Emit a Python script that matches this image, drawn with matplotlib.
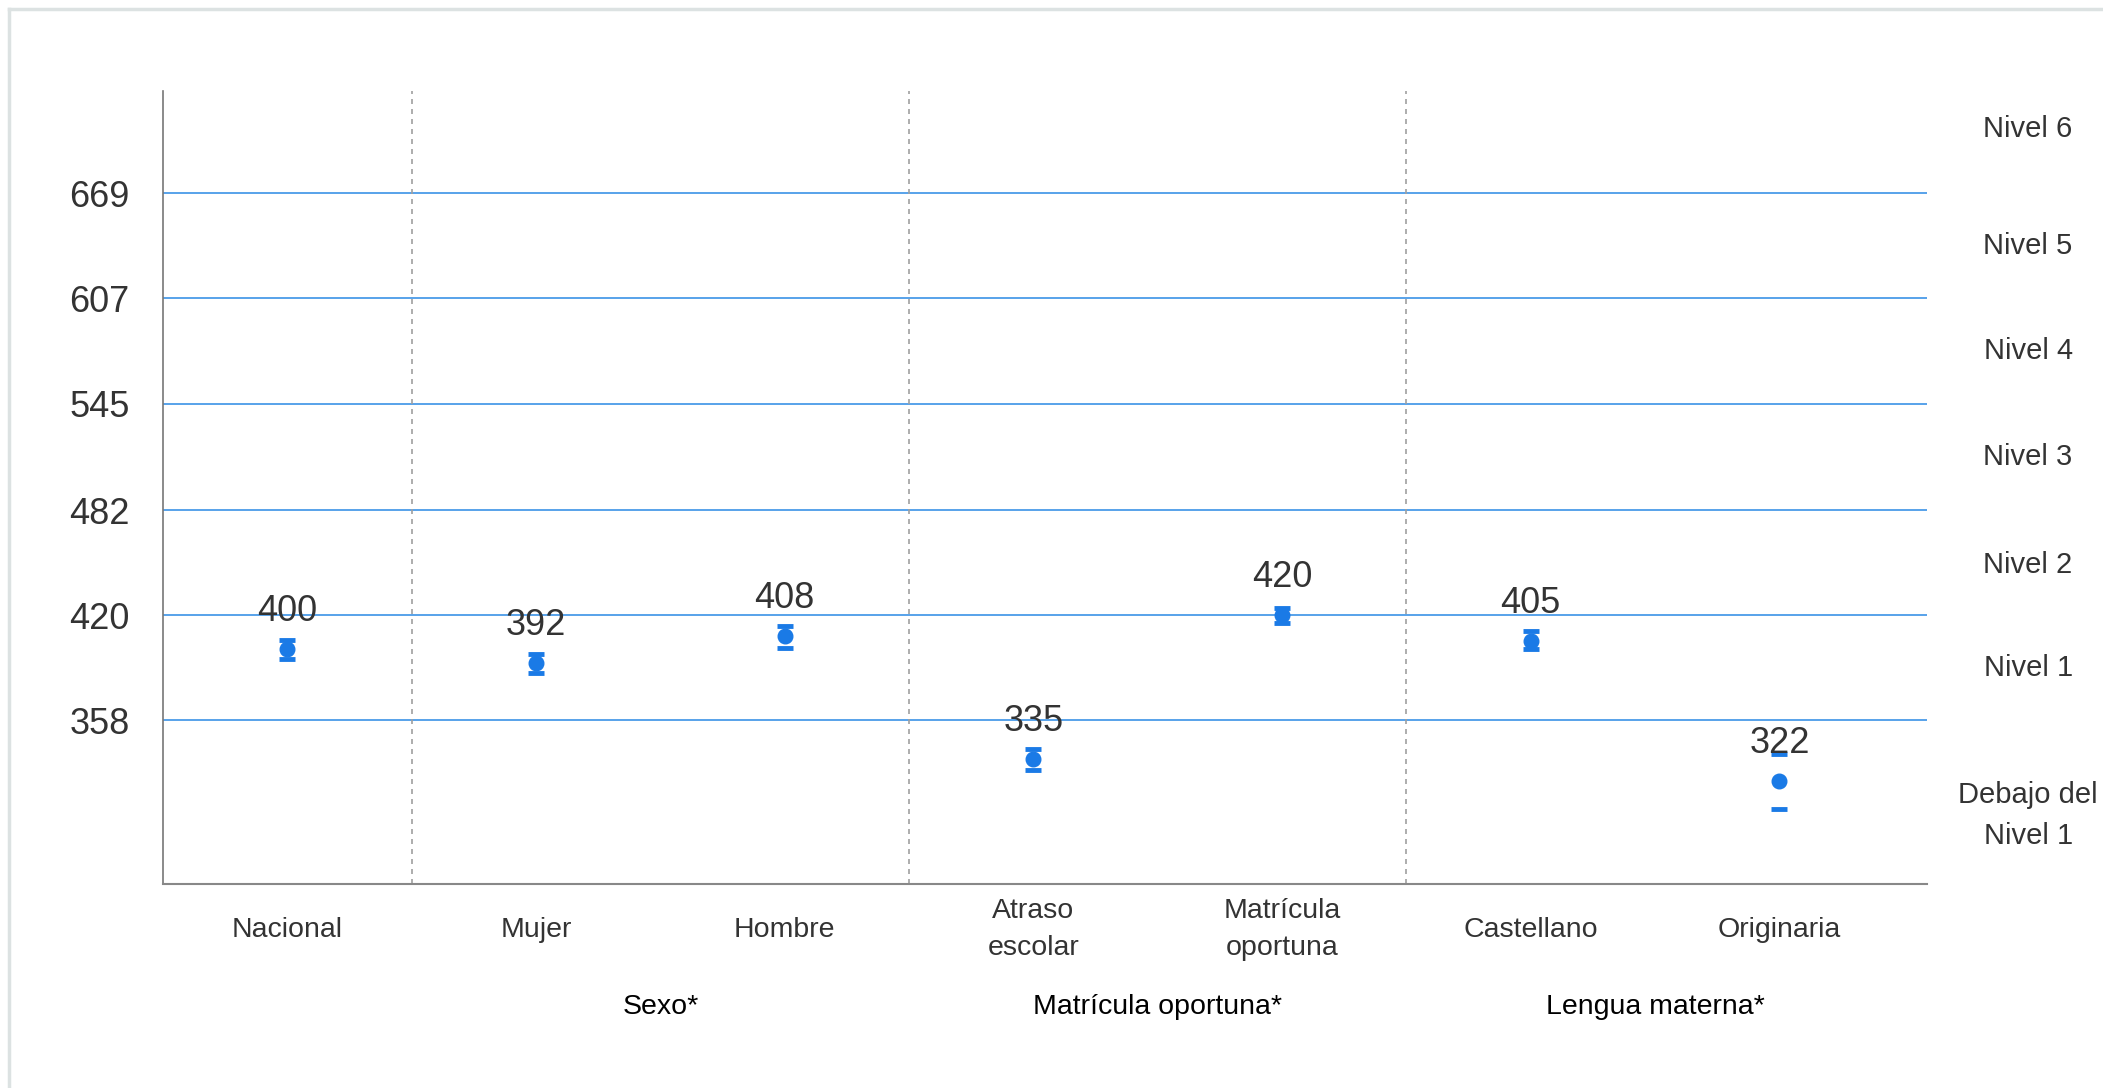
import matplotlib.pyplot as plt
from matplotlib.lines import Line2D

plt.rcParams['font.family'] = ['Liberation Sans', 'DejaVu Sans']

# data
categories = ['Nacional', 'Mujer', 'Hombre', 'Atraso\nescolar', 'Matrícula\noportuna', 'Castellano', 'Originaria']
means = [400, 392, 408, 335, 420, 405, 322]
ci_low = [394.5, 386, 401, 329, 415.5, 400, 306]
ci_high = [405.5, 397, 414, 341, 424.5, 410.5, 338.5]
label_values = ['400', '392', '408', '335', '420', '405', '322']

cut_points = [358, 420, 482, 545, 607, 669]
levels = ['Debajo del\nNivel 1', 'Nivel 1', 'Nivel 2', 'Nivel 3', 'Nivel 4', 'Nivel 5', 'Nivel 6']
level_pos = [302, 389, 450, 513.5, 576, 638, 707]

groups = ['Sexo*', 'Matrícula oportuna*', 'Lengua materna*']
group_pos = [1.5, 3.5, 5.5]
separators = [0.5, 2.5, 4.5]

blue = '#1a7ae6'
grid_blue = '#4a9be8'
text_col = '#333333'

fig = plt.figure(figsize=(21.03, 10.88), dpi=100)
ax = fig.add_axes([0.0775, 0.1875, 0.839, 0.729])

x = list(range(len(categories)))

for c in cut_points:
    ax.axhline(c, color=grid_blue, lw=1.3, zorder=1)
for s in separators:
    ax.axvline(s, color='#a0a0a0', lw=1.2, ls=(0, (3, 3)), zorder=1)

yerr = [[m - l for m, l in zip(means, ci_low)], [h - m for m, h in zip(means, ci_high)]]
ax.errorbar(x, means, yerr=yerr, fmt='o', color=blue, ms=10.5, elinewidth=0,
            capsize=5.8, capthick=3.5, zorder=3)

for xi, m, lab in zip(x, means, label_values):
    ax.annotate(lab, (xi, m), xytext=(0, 27), textcoords='offset points',
                ha='center', va='center', fontsize=26, color=text_col, zorder=4)

ax.set_xlim(-0.5, 6.595)
ax.set_ylim(261.5, 729.5)
ax.set_yticks(cut_points)
ax.set_yticklabels([str(c) for c in cut_points], fontsize=26, color=text_col)
ax.set_xticks(x)
ax.set_xticklabels(categories, fontsize=20.5, color=text_col, linespacing=1.55, va='center')
ax.tick_params(axis='both', length=0)
ax.tick_params(axis='y', pad=24)
ax.tick_params(axis='x', pad=33)

for sp in ['top', 'right']:
    ax.spines[sp].set_visible(False)
ax.spines['left'].set_color('#777777')
ax.spines['bottom'].set_color('#888888')
ax.spines['left'].set_linewidth(1.2)
ax.spines['bottom'].set_linewidth(1.5)

for lv, yp in zip(levels, level_pos):
    ax.text(7.0, yp, lv, ha='center', va='center', fontsize=21, color=text_col,
            linespacing=1.6, clip_on=False)

for g, gx in zip(groups, group_pos):
    ax.text(gx, -0.155, g, transform=ax.get_xaxis_transform(), ha='center', va='center',
            fontsize=20.5, color='black')

# light frame at top and left
fig.add_artist(Line2D([0.0043, 1.0], [0.9917, 0.9917], transform=fig.transFigure, color='#dce2e2', lw=2.5))
fig.add_artist(Line2D([0.0043, 0.0043], [0.0, 0.9917], transform=fig.transFigure, color='#dce2e2', lw=2.5))

fig.savefig('out.png', dpi=100, facecolor='white')
